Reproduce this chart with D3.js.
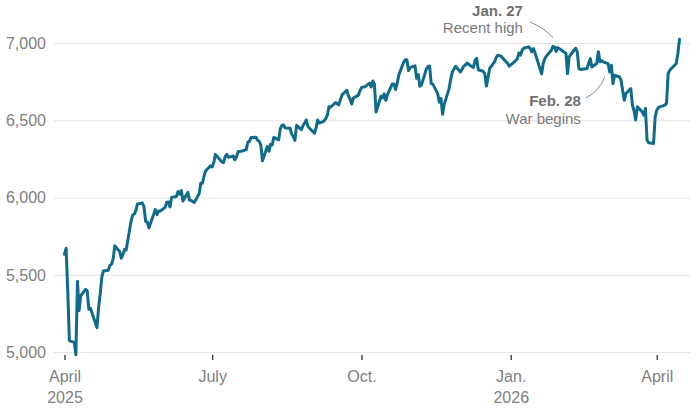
<!DOCTYPE html>
<html>
<head>
<meta charset="utf-8">
<script src="https://cdn.jsdelivr.net/npm/d3@7/dist/d3.min.js"></script>
<style>
  body { margin: 0; background: #fff; }
  svg text { font-family: "Liberation Sans", Arial, sans-serif; }
</style>
</head>
<body>
<div class="chart"></div>
<script>
// closing values, one per trading day (last months)
const dates = [
  "2025-04-01","2025-04-02","2025-04-03","2025-04-04","2025-04-07","2025-04-08","2025-04-09","2025-04-10","2025-04-11",
  "2025-04-14","2025-04-15","2025-04-16","2025-04-17","2025-04-21","2025-04-22","2025-04-23","2025-04-24","2025-04-25",
  "2025-04-28","2025-04-29","2025-04-30","2025-05-01","2025-05-02","2025-05-05","2025-05-06","2025-05-07","2025-05-08",
  "2025-05-09","2025-05-12","2025-05-13","2025-05-14","2025-05-15","2025-05-16","2025-05-19","2025-05-20","2025-05-21",
  "2025-05-22","2025-05-23","2025-05-27","2025-05-28","2025-05-29","2025-05-30","2025-06-02","2025-06-03","2025-06-04",
  "2025-06-05","2025-06-06","2025-06-09","2025-06-10","2025-06-11","2025-06-12","2025-06-13","2025-06-16","2025-06-17",
  "2025-06-18","2025-06-20","2025-06-23","2025-06-24","2025-06-25","2025-06-26","2025-06-27","2025-06-30","2025-07-01",
  "2025-07-02","2025-07-03","2025-07-07","2025-07-08","2025-07-09","2025-07-10","2025-07-11","2025-07-14","2025-07-15",
  "2025-07-16","2025-07-17","2025-07-18","2025-07-21","2025-07-22","2025-07-23","2025-07-24","2025-07-25","2025-07-28",
  "2025-07-29","2025-07-30","2025-07-31","2025-08-01","2025-08-04","2025-08-05","2025-08-06","2025-08-07","2025-08-08",
  "2025-08-11","2025-08-12","2025-08-13","2025-08-14","2025-08-15","2025-08-18","2025-08-19","2025-08-20","2025-08-21",
  "2025-08-22","2025-08-25","2025-08-26","2025-08-27","2025-08-28","2025-08-29","2025-09-02","2025-09-03","2025-09-04",
  "2025-09-05","2025-09-08","2025-09-09","2025-09-10","2025-09-11","2025-09-12","2025-09-15","2025-09-16","2025-09-17",
  "2025-09-18","2025-09-19","2025-09-22","2025-09-23","2025-09-24","2025-09-25","2025-09-26","2025-09-29","2025-09-30",
  "2025-10-01","2025-10-02","2025-10-03","2025-10-06","2025-10-07","2025-10-08","2025-10-09","2025-10-10","2025-10-13",
  "2025-10-14","2025-10-15","2025-10-16","2025-10-17","2025-10-20","2025-10-21","2025-10-22","2025-10-23","2025-10-24",
  "2025-10-27","2025-10-28","2025-10-29","2025-10-30","2025-10-31","2025-11-03","2025-11-04","2025-11-05","2025-11-06",
  "2025-11-07","2025-11-10","2025-11-11","2025-11-12","2025-11-13","2025-11-14","2025-11-17","2025-11-18","2025-11-19",
  "2025-11-20","2025-11-21","2025-11-24","2025-11-25","2025-11-26","2025-11-28","2025-12-01","2025-12-02","2025-12-03",
  "2025-12-04","2025-12-05","2025-12-08","2025-12-09","2025-12-10","2025-12-11","2025-12-12","2025-12-15","2025-12-16",
  "2025-12-17","2025-12-18","2025-12-19","2025-12-22","2025-12-23","2025-12-24","2025-12-26","2025-12-29","2025-12-30",
  "2025-12-31","2026-01-02","2026-01-05","2026-01-06","2026-01-07","2026-01-08","2026-01-09","2026-01-12","2026-01-13",
  "2026-01-14","2026-01-15","2026-01-16","2026-01-20","2026-01-21","2026-01-22","2026-01-23","2026-01-26","2026-01-27",
  "2026-01-28","2026-01-29","2026-01-30","2026-02-02","2026-02-03","2026-02-04","2026-02-05","2026-02-06","2026-02-09",
  "2026-02-10","2026-02-11","2026-02-12","2026-02-13","2026-02-17","2026-02-18","2026-02-19","2026-02-20","2026-02-23",
  "2026-02-24","2026-02-25","2026-02-26","2026-02-27","2026-03-02","2026-03-03","2026-03-04","2026-03-05","2026-03-06",
  "2026-03-09","2026-03-10","2026-03-11","2026-03-12","2026-03-13","2026-03-16","2026-03-17","2026-03-18","2026-03-19",
  "2026-03-20","2026-03-23","2026-03-24","2026-03-25","2026-03-26","2026-03-27","2026-03-30","2026-03-31","2026-04-01",
  "2026-04-02","2026-04-06","2026-04-07","2026-04-08","2026-04-09","2026-04-10","2026-04-13","2026-04-14","2026-04-15"
]
const closes = [
  5633,5671,5397,5074,5062,4983,5457,5268,5363,
  5406,5397,5276,5283,5158,5288,5376,5485,5525,
  5529,5561,5569,5604,5687,5650,5607,5631,5664,
  5660,5844,5887,5893,5917,5958,5964,5940,5845,
  5842,5803,5922,5889,5912,5912,5936,5970,5971,
  5939,6000,6006,6039,6022,6045,5977,6033,5983,
  5981,5968,6025,6092,6092,6141,6173,6205,6198,
  6227,6279,6230,6226,6263,6280,6260,6269,6244,
  6264,6297,6297,6306,6310,6359,6363,6389,6390,
  6371,6363,6339,6238,6330,6299,6345,6340,6389,
  6373,6446,6467,6469,6450,6449,6411,6396,6370,
  6467,6439,6466,6481,6502,6460,6416,6448,6502,
  6482,6495,6513,6532,6587,6584,6615,6607,6600,
  6632,6664,6694,6657,6638,6605,6644,6661,6688,
  6711,6715,6716,6740,6715,6754,6735,6553,6655,
  6644,6671,6629,6664,6735,6735,6699,6738,6792,
  6875,6891,6891,6822,6840,6852,6772,6796,6720,
  6729,6832,6847,6851,6737,6734,6672,6617,6642,
  6539,6603,6705,6766,6813,6849,6813,6829,6850,
  6857,6870,6847,6841,6887,6901,6827,6817,6800,
  6721,6775,6835,6878,6905,6921,6915,6880,6870,
  6850,6867,6895,6935,6921,6953,6966,6975,6964,
  6943,6964,6935,6800,6867,6899,6915,6953,6978,
  6975,6945,6970,6948,6940,6935,6802,6910,6953,
  6966,6943,6835,6828,6835,6867,6899,6845,6867,
  6943,6878,6885,6878,6867,6813,6856,6737,6791,
  6780,6759,6690,6630,6673,6705,6598,6560,6501,
  6587,6554,6533,6576,6371,6354,6349,6522,6565,
  6583,6598,6609,6802,6824,6835,6867,6932,7025
]
const yTicks = [5000, 5500, 6000, 6500, 7000]
const xTicks = ["2025-04-01", "2025-07-01", "2025-10-01", "2026-01-01", "2026-04-01"]
const xTickLabels = [["April", "2025"], ["July"], ["Oct."], ["Jan.", "2026"], ["April"]]
const notes = [
  {date: "2026-01-27", value: 6978, title: "Jan. 27", text: "Recent high"},
  {date: "2026-02-28", value: 6878, title: "Feb. 28", text: "War begins"}
]

const parse = d3.timeParse("%Y-%m-%d")
const data = dates.map((d, i) => ({date: parse(d), value: closes[i]}))

// set the dimensions and margins of the graph
const margin = {top: 43, right: 6, bottom: 59, left: 54},
  width = 696 - margin.left - margin.right,
  height = 411 - margin.top - margin.bottom;

const svg = d3.select(".chart")
  .append("svg")
  .attr("width", width + margin.left + margin.right)
  .attr("height", height + margin.top + margin.bottom)
  .append("g")
  .attr("transform", `translate(${margin.left},${margin.top})`);

const x = d3.scaleTime()
  .domain([parse("2025-04-01"), parse("2026-04-15")])
  .range([10.5, 625.5])

const y = d3.scaleLinear()
  .domain([5000, 7000])
  .range([height, 0])

// y axis with gridlines
const yAxis = svg.append("g")
  .call(d3.axisLeft(y).tickValues(yTicks).tickSize(-width).tickPadding(8).tickFormat(d3.format(",")))
yAxis.select(".domain").remove()
yAxis.selectAll(".tick line").attr("stroke", "#e4e4e4").attr("stroke-width", 1)
yAxis.selectAll(".tick text")
  .attr("fill", "#808080")
  .attr("font-size", "16px")
  .attr("dy", "0.34em")

// x axis: small ticks under the baseline, labels on one or two lines
const xAxis = svg.append("g")
  .attr("transform", `translate(0,${height})`)
  .call(d3.axisBottom(x).tickValues(xTicks.map(parse)).tickSize(8).tickFormat(""))
xAxis.select(".domain").remove()
xAxis.selectAll(".tick line").attr("y1", 3).attr("stroke", "#333").attr("stroke-width", 1.3)
xAxis.selectAll(".tick text").remove()
xAxis.selectAll(".tick").each(function(d, i) {
  const t = d3.select(this).append("text")
    .attr("text-anchor", "middle")
    .attr("fill", "#808080")
    .attr("font-size", "16px")
  xTickLabels[i].forEach((line, j) => {
    t.append("tspan").attr("x", 0).attr("y", 30 + j * 21).text(line)
  })
})

// the line
svg.append("path")
  .datum(data)
  .attr("fill", "none")
  .attr("stroke", "#0f6a8b")
  .attr("stroke-width", 3)
  .attr("stroke-linejoin", "round")
  .attr("stroke-linecap", "round")
  .attr("d", d3.line().x(d => x(d.date)).y(d => y(d.value)))

// annotations
const n0 = notes[0], n1 = notes[1]
const ax0 = x(parse(n0.date)), ay0 = y(n0.value)
const highNote = svg.append("g").attr("transform", `translate(${ax0 - 30},${ay0 - 30.5})`)
highNote.append("text").attr("text-anchor", "end").attr("font-size", "15px").attr("font-weight", "bold")
  .attr("fill", "#6f6f6f").text(n0.title)
highNote.append("text").attr("text-anchor", "end").attr("font-size", "15px").attr("y", 17)
  .attr("fill", "#7a7a7a").text(n0.text)
svg.append("path")
  .attr("d", `M${ax0 - 23},${ay0 - 24.5} Q${ax0 - 10},${ay0 - 19} ${ax0},${ay0 - 9}`)
  .attr("fill", "none").attr("stroke", "#8a8a8a").attr("stroke-width", 1)

const ax1 = x(parse(n1.date)), ay1 = y(n1.value)
const warNote = svg.append("g").attr("transform", `translate(${ax1 - 24},${ay1 + 44})`)
warNote.append("text").attr("text-anchor", "end").attr("font-size", "15px").attr("font-weight", "bold")
  .attr("fill", "#6f6f6f").text(n1.title)
warNote.append("text").attr("text-anchor", "end").attr("font-size", "15px").attr("y", 18)
  .attr("fill", "#7a7a7a").text(n1.text)
svg.append("path")
  .attr("d", `M${ax1 - 19},${ay1 + 36} Q${ax1 - 6},${ay1 + 30} ${ax1},${ay1 + 15}`)
  .attr("fill", "none").attr("stroke", "#8a8a8a").attr("stroke-width", 1)
</script>
</body>
</html>
